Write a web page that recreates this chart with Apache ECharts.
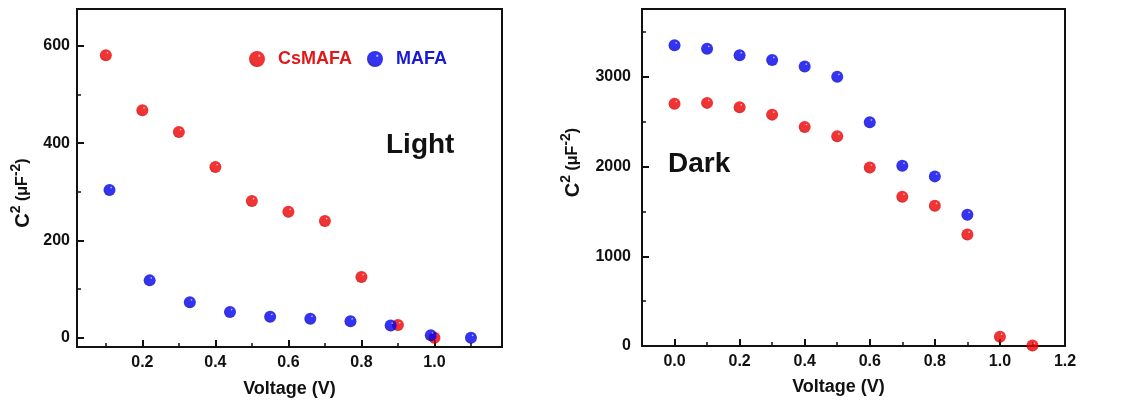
<!DOCTYPE html>
<html>
<head>
<meta charset="utf-8">
<script src="https://cdn.jsdelivr.net/npm/echarts@6/dist/echarts.min.js"></script>
<style>
  html, body { margin: 0; padding: 0; background: #fff; }
  #chart { width: 1123px; height: 411px; }
</style>
</head>
<body>
<div id="chart"></div>
<script>
// Light panel
var lightVoltCs = [0.1, 0.2, 0.3, 0.4, 0.5, 0.6, 0.7, 0.8, 0.9, 1.0];
var lightCapCs = [581, 468, 423, 351, 281, 259, 240, 125, 26, 0];
var lightVoltMa = [0.11, 0.22, 0.33, 0.44, 0.55, 0.66, 0.77, 0.88, 0.99, 1.10];
var lightCapMa = [304, 118, 73, 53, 43, 39, 34, 25, 5, 0];
// Dark panel
var darkVoltCs = [0.0, 0.1, 0.2, 0.3, 0.4, 0.5, 0.6, 0.7, 0.8, 0.9, 1.0, 1.1];
var darkCapCs = [2698, 2709, 2660, 2578, 2441, 2336, 1990, 1663, 1563, 1242, 104, 5];
var darkVoltMa = [0.0, 0.1, 0.2, 0.3, 0.4, 0.5, 0.6, 0.7, 0.8, 0.9];
var darkCapMa = [3351, 3311, 3240, 3188, 3114, 2999, 2492, 2009, 1890, 1462];
// tick labels
var lightXTicks = [0.2, 0.4, 0.6, 0.8, 1.0];
var lightXMinor = [0.1, 0.3, 0.5, 0.7, 0.9, 1.1];
var lightYTicks = [0, 200, 400, 600];
var lightYMinor = [100, 300, 500];
var darkXTicks = [0.0, 0.2, 0.4, 0.6, 0.8, 1.0, 1.2];
var darkXMinor = [0.1, 0.3, 0.5, 0.7, 0.9, 1.1];
var darkYTicks = [0, 1000, 2000, 3000];
var darkYMinor = [500, 1500, 2500, 3500];

var FONT = '"Liberation Sans", Arial, sans-serif';

function pairs(xs, ys) {
    var out = [];
    for (var i = 0; i < xs.length; i++) out.push([xs[i], ys[i]]);
    return out;
}

// shaded ball look, highlight top right
function sphere(light, mid, dark) {
    return {
        type: 'radial', x: 0.64, y: 0.3, r: 0.75,
        colorStops: [
            { offset: 0, color: light },
            { offset: 0.14, color: mid },
            { offset: 0.7, color: mid },
            { offset: 1, color: dark }
        ]
    };
}
var redBall = sphere('#ffd8d8', '#ee0000', '#b40000');
var blueBall = sphere('#d8d8ff', '#0000ee', '#00009a');

// axis with line + labels, no ticks
function mainAxis(gi, pos, min, max, ticks, fmt, margin, name, gap, pad) {
    return {
        type: 'value', gridIndex: gi, position: pos, min: min, max: max,
        splitLine: { show: false },
        axisLine: { show: true, onZero: false, lineStyle: { color: '#111', width: 2 } },
        axisTick: { show: false },
        axisLabel: { customValues: ticks, formatter: fmt, margin: margin, color: '#111',
            fontFamily: FONT, fontWeight: 'bold', fontSize: 16 },
        name: name, nameLocation: 'middle', nameGap: gap,
        nameTextStyle: { color: '#111', fontFamily: FONT, fontWeight: 'bold', fontSize: 18, padding: pad }
    };
}
// tick-only axis
function tickAxis(gi, pos, min, max, ticks, len, w) {
    return {
        type: 'value', gridIndex: gi, position: pos, min: min, max: max,
        splitLine: { show: false },
        axisLine: { show: false, onZero: false },
        axisLabel: { show: false, customValues: ticks },
        axisTick: { show: true, inside: true, length: len, customValues: ticks, lineStyle: { color: '#111', width: w } }
    };
}

var yName = '{c|C}{s|2}{p| (\u03BCF}{s|-2}{p|)}';
var yRich = {
    c: { fontSize: 20, fontWeight: 'bold', fontFamily: FONT, color: '#111' },
    s: { fontSize: 14, fontWeight: 'bold', fontFamily: FONT, color: '#111', padding: [0, 0, 14, 0] },
    p: { fontSize: 16, fontWeight: 'bold', fontFamily: FONT, color: '#111' }
};
var fmt1 = function (v) { return v.toFixed(1); };
var fmt0 = function (v) { return String(v); };

var yA0 = mainAxis(0, 'left', -19, 676, lightYTicks, fmt0, 7, yName, 40, [0, 30, 0, 0]);
var yA1 = mainAxis(1, 'left', 0, 3755, darkYTicks, fmt0, 11, yName, 55, [0, 0, 0, 30]);
yA0.nameTextStyle.rich = yRich;
yA1.nameTextStyle.rich = yRich;

var myChart = echarts.init(document.getElementById('chart'));
var option = {
    backgroundColor: '#fff',
    animation: false,
    title: [
        { text: 'Light', left: 386, top: 131, padding: 0,
          textStyle: { fontFamily: FONT, fontWeight: 'bold', fontSize: 28, color: '#111' } },
        { text: 'Dark', left: 668, top: 150, padding: 0,
          textStyle: { fontFamily: FONT, fontWeight: 'bold', fontSize: 28, color: '#111' } }
    ],
    legend: {
        left: 244, top: 45, itemWidth: 16, itemHeight: 16, itemGap: 15,
        icon: 'circle', selectedMode: false,
        textStyle: { fontFamily: FONT, fontWeight: 'bold', fontSize: 18, padding: [0, 0, 0, 8] },
        data: [
            { name: 'CsMAFA', textStyle: { color: '#e01818' } },
            { name: 'MAFA', textStyle: { color: '#1818d8' } }
        ]
    },
    grid: [
        { left: 77, top: 9, width: 425, height: 338, show: true, borderColor: '#111', borderWidth: 2 },
        { left: 642, top: 9, width: 423, height: 337, show: true, borderColor: '#111', borderWidth: 2 }
    ],
    xAxis: [
        mainAxis(0, 'bottom', 0.021, 1.185, lightXTicks, fmt1, 8, 'Voltage (V)', 33, [0, 0, 0, 0]),
        mainAxis(1, 'bottom', -0.1, 1.2, darkXTicks, fmt1, 8, 'Voltage (V)', 32, [0, 30, 0, 0]),
        tickAxis(0, 'bottom', 0.021, 1.185, lightXTicks, 7, 2),
        tickAxis(0, 'bottom', 0.021, 1.185, lightXMinor, 4, 1.5),
        tickAxis(1, 'bottom', -0.1, 1.2, darkXTicks, 7, 2),
        tickAxis(1, 'bottom', -0.1, 1.2, darkXMinor, 4, 1.5)
    ],
    yAxis: [
        yA0,
        yA1,
        tickAxis(0, 'left', -19, 676, lightYTicks, 7, 2),
        tickAxis(0, 'left', -19, 676, lightYMinor, 4, 1.5),
        tickAxis(1, 'left', 0, 3755, darkYTicks, 7, 2),
        tickAxis(1, 'left', 0, 3755, darkYMinor, 4, 1.5)
    ],
    series: [
        { name: 'CsMAFA', type: 'scatter', xAxisIndex: 0, yAxisIndex: 0, symbolSize: 12,
          itemStyle: { color: redBall }, emphasis: { disabled: true }, data: pairs(lightVoltCs, lightCapCs) },
        { name: 'MAFA', type: 'scatter', xAxisIndex: 0, yAxisIndex: 0, symbolSize: 12,
          itemStyle: { color: blueBall }, emphasis: { disabled: true }, data: pairs(lightVoltMa, lightCapMa) },
        { name: 'CsMAFA', type: 'scatter', xAxisIndex: 1, yAxisIndex: 1, symbolSize: 12,
          itemStyle: { color: redBall }, emphasis: { disabled: true }, data: pairs(darkVoltCs, darkCapCs) },
        { name: 'MAFA', type: 'scatter', xAxisIndex: 1, yAxisIndex: 1, symbolSize: 12,
          itemStyle: { color: blueBall }, emphasis: { disabled: true }, data: pairs(darkVoltMa, darkCapMa) }
    ]
};
myChart.setOption(option);
</script>
</body>
</html>
